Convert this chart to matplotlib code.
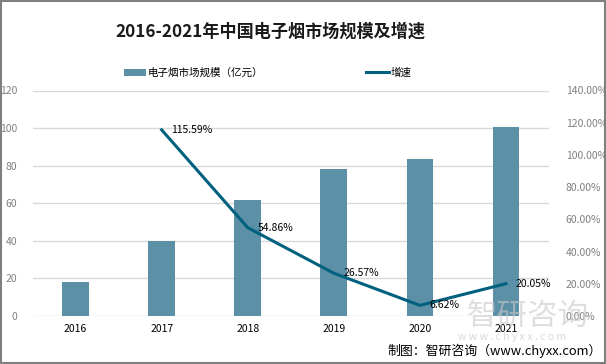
import matplotlib
matplotlib.use("Agg")
import matplotlib.pyplot as plt
from matplotlib.patches import Rectangle

plt.rcParams['font.family'] = ['Noto Sans CJK SC', 'DejaVu Sans']

years = ['2016', '2017', '2018', '2019', '2020', '2021']
market_size = [18.2, 39.8, 61.5, 78.4, 83.3, 100.4]
growth = [None, 115.59, 54.86, 26.57, 6.62, 20.05]
growth_labels = ['', '115.59%', '54.86%', '26.57%', '6.62%', '20.05%']
left_ticks = [0, 20, 40, 60, 80, 100, 120]
right_ticks = [0, 20, 40, 60, 80, 100, 120, 140]

bar_color = '#5b90a7'
line_color = '#00617f'
tick_gray = '#808080'

W, H = 606, 364
fig = plt.figure(figsize=(W / 100, H / 100), dpi=100)
ax = fig.add_axes([32.5 / W, (H - 316) / H, (549 - 32.5) / W, (316 - 90.5) / H])
ax2 = ax.twinx()

x = list(range(len(years)))
bars = ax.bar(x, market_size, width=0.31, color=bar_color, zorder=2, label='电子烟市场规模（亿元）')
ax.set_xlim(-0.5, len(years) - 0.5)
ax.set_ylim(0, 120)
ax.set_yticks(left_ticks)
ax.set_yticklabels([str(t) for t in left_ticks])
ax.set_xticks(x)
ax.set_xticklabels(years)
ax.grid(axis='y', color='#d9d9d9', linewidth=1, zorder=0)
ax.set_axisbelow(True)
for s in ax.spines.values():
    s.set_visible(False)
for s in ax2.spines.values():
    s.set_visible(False)
ax.tick_params(axis='y', length=0, pad=11, labelsize=7.5, labelcolor=tick_gray)
ax.tick_params(axis='x', length=0, pad=6, labelsize=7.5, labelcolor='black')

gx = [i for i, g in zip(x, growth) if g is not None]
gy = [g for g in growth if g is not None]
line, = ax2.plot(gx, [g / 100 for g in gy], color=line_color, linewidth=2.2, zorder=3, label='增速', solid_joinstyle='miter')
ax2.set_ylim(0, 1.4)
ax2.set_yticks([t / 100 for t in right_ticks])
ax2.set_yticklabels([f'{t:.2f}%' for t in right_ticks])
ax2.tick_params(axis='y', length=0, pad=12, labelsize=7.5, labelcolor=tick_gray)

for i, g, lab in zip(x, growth, growth_labels):
    if g is None:
        continue
    ax2.annotate(lab, (i, g / 100), xytext=(7, 0), textcoords='offset points',
                 ha='left', va='center', fontsize=7.5, color='black', zorder=5)

fig.text(270.5 / W, (H - 32) / H, '2016-2021年中国电子烟市场规模及增速', ha='center', va='center',
         fontsize=12.3, fontweight='bold', color='#1a1a1a')

fig.legend(handles=[bars, line], loc='center', bbox_to_anchor=(267.5 / W, (H - 73) / H), ncol=2,
           frameon=False, columnspacing=9.8, handlelength=2.1, handletextpad=0.15, fontsize=7.6)

# watermark
fig.text(528 / W, (H - 316) / H, '智研咨询', ha='center', va='center', fontsize=22, color='#c8c8c8', alpha=0.6, zorder=10)
fig.text(512 / W, (H - 337) / H, 'w w w . c h y x x . c o m', ha='center', va='center', fontsize=7.5, color='#c8c8c8', alpha=0.7, zorder=10)

fig.text(602 / W, (H - 351) / H, '制图：智研咨询（www.chyxx.com）', ha='right', va='center', fontsize=9.3, color='black')

fig.patches.append(Rectangle((0.001, 0.002), 0.997, 0.995, transform=fig.transFigure, fill=False,
                             edgecolor='#7f7f7f', linewidth=1.5))

fig.savefig('out.png', dpi=100)
